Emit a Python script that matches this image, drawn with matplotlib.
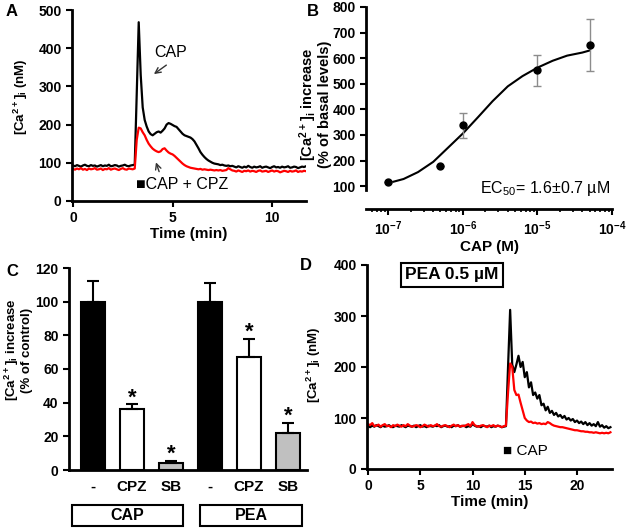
import numpy as np
import matplotlib
matplotlib.use("Agg")
import matplotlib.pyplot as plt
from matplotlib.patches import Rectangle
from matplotlib.ticker import LogLocator, NullFormatter
import matplotlib.transforms as mtransforms

plt.rcParams['font.family'] = ['Liberation Sans', 'DejaVu Sans']
plt.rcParams['font.weight'] = 'bold'
plt.rcParams['axes.labelweight'] = 'bold'
plt.rcParams['mathtext.default'] = 'regular'
plt.rcParams['axes.linewidth'] = 2
plt.rcParams['xtick.major.width'] = 1.5
plt.rcParams['ytick.major.width'] = 1.5
plt.rcParams['xtick.major.size'] = 4
plt.rcParams['ytick.major.size'] = 4

# ---- panel A: Ca traces, 0.1 min sampling
DT_A = 0.1
capA = [93, 91, 94, 92, 90, 93, 95, 92, 91, 94, 92, 93, 90, 92, 94, 91, 93, 92, 95, 91,
        92, 94, 93, 90, 92, 93, 95, 92, 91, 93, 94, 95,
        280, 468, 330, 245, 212, 195, 182, 175, 172, 176, 180, 182, 179, 184, 190, 200,
        204, 202, 199, 196, 194, 188, 182, 176, 172, 170, 168, 166, 162, 156, 147, 138,
        128, 121, 115, 110, 106, 103, 100, 98, 97, 96, 94, 95, 93, 92, 93, 91, 92,
        90, 88, 91, 89, 87, 90, 88, 92, 89, 87, 90, 88, 89, 91, 87, 89, 90, 88, 86, 89,
        91, 88, 89, 87, 90, 88, 89, 91, 87, 88, 90, 89, 86, 88, 90, 89, 91]
cpzA = [84, 82, 85, 83, 86, 82, 84, 81, 85, 83, 84, 86, 82, 83, 85, 81, 84, 83, 86, 82,
        84, 85, 83, 81, 84, 86, 83, 82, 85, 84, 83, 85,
        160, 192, 190, 180, 172, 160, 150, 143, 137, 133, 130, 128, 130, 136, 138, 132,
        127, 124, 122, 118, 113, 108, 103, 98, 94, 91, 89, 87, 86, 85, 84, 83,
        84, 82, 83, 82, 81, 82, 81, 80, 81, 80, 81, 79, 80, 81, 86, 83, 80,
        79, 77, 80, 78, 76, 79, 78, 80, 77, 79, 78, 76, 79, 80, 77, 78, 79, 76, 78, 80,
        77, 79, 78, 75, 77, 79, 78, 76, 79, 77, 78, 80, 76, 78, 77, 79, 78]

# ---- panel B: dose response
cap_conc = [1e-7, 5e-7, 1e-6, 1e-5, 5e-5]
cap_resp = [115, 180, 338, 553, 652]
cap_err = [0, 0, 48, 60, 102]
fit_conc = [1.0e-7, 1.6e-7, 2.5e-7, 4.0e-7, 6.3e-7, 1.0e-6, 1.6e-6, 2.5e-6,
            4.0e-6, 6.3e-6, 1.0e-5, 1.6e-5, 2.5e-5, 4.0e-5, 5.0e-5]
fit_resp = [112, 128, 155, 195, 250, 306, 370, 432, 490, 530, 563, 590, 610, 622, 630]

# ---- panel C: bars
bar_labels = ['-', 'CPZ', 'SB', '-', 'CPZ', 'SB']
bar_vals = [100, 36, 4, 100, 67, 22]
bar_errs = [12, 3, 1.5, 11, 11, 6]
bar_colors = ['black', 'white', '#c0c0c0', 'black', 'white', '#c0c0c0']
bar_sig = [False, True, True, False, True, True]
groups = ['CAP', 'PEA']

# ---- panel D: traces, 0.2 min sampling
DT_D = 0.2
capD = [84, 82, 85, 83, 86, 84, 82, 85, 83, 84, 86, 83, 82, 85, 84, 83, 86, 84, 82, 85,
        84, 83, 85, 82, 84, 86, 83, 84, 82, 85, 84, 83, 85, 84, 86, 82, 84, 85, 83, 84,
        82, 85, 84, 86, 83, 84, 85, 82, 84, 83, 88, 85, 83, 84, 82, 85, 84, 83, 85, 82,
        84, 83, 85, 84, 82, 83, 84,
        200, 312, 205, 190, 205, 222, 200, 210, 180, 190, 160, 170, 145, 150, 138, 145,
        125, 128, 115, 122, 110, 114, 106, 110, 103, 106, 100, 104, 97, 100, 95, 98,
        92, 95, 90, 93, 88, 92, 86, 90, 85, 88, 84, 92, 83, 86, 81, 84, 80, 82]
peaD = [88, 86, 90, 84, 85, 87, 83, 86, 88, 84, 85, 82, 86, 84, 87, 85, 83, 86, 84, 88,
        85, 83, 84, 86, 85, 82, 84, 87, 85, 83, 86, 84, 85, 88, 84, 83, 85, 86, 84, 82,
        85, 87, 84, 86, 83, 85, 84, 86, 88, 84, 92, 86, 84, 83, 85, 86, 84, 82, 85, 84,
        86, 83, 85, 84, 82, 84, 85,
        150, 207, 200, 155, 145, 146, 130, 115, 100, 95, 92, 93, 90, 91, 89, 90,
        88, 89, 88, 92, 90, 87, 85, 84, 83, 82, 82, 81, 80, 79, 78, 77,
        76, 76, 75, 74, 74, 73, 73, 72, 72, 71, 72, 71, 70, 71, 70, 71, 70, 72]

W, H = 629, 530
fig = plt.figure(figsize=(W / 100, H / 100), dpi=100)


def px_axes(l, t, r, b):
    return fig.add_axes([l / W, 1 - b / H, (r - l) / W, (b - t) / H])


def style(ax):
    ax.spines['top'].set_visible(False)
    ax.spines['right'].set_visible(False)
    ax.tick_params(labelsize=10, direction='out')


# ===== A
axA = px_axes(72, 10, 306, 201)
style(axA)
tA = np.arange(len(capA)) * DT_A
axA.plot(tA, capA, color='black', lw=1.6)
axA.plot(tA, cpzA, color='red', lw=1.6)
axA.set_xlim(-0.05, 11.7)
axA.set_ylim(0, 500)
axA.set_xticks([0, 5, 10])
axA.set_yticks([0, 100, 200, 300, 400, 500])
axA.set_xlabel('Time (min)', fontsize=11, labelpad=1)
axA.set_ylabel('[Ca$^{2+}$]$_i$ (nM)', fontsize=9.5)
axA.yaxis.set_label_coords(-0.18, 0.545)
axA.text(4.9, 390, 'CAP', fontsize=11.5, fontweight='normal', ha='center', va='center')
axA.annotate('', xy=(3.95, 328), xytext=(4.8, 360),
             arrowprops=dict(arrowstyle='->', color='#333333', lw=1))
axA.annotate('', xy=(4.12, 108), xytext=(4.37, 70),
             arrowprops=dict(arrowstyle='->', color='#333333', lw=1))
axA.text(3.15, 42, '\u25a0CAP + CPZ', fontsize=11.5, fontweight='normal', ha='left', va='center')

# ===== B
axB = px_axes(366, 7, 612, 190)
style(axB)
axB.set_xscale('log')
axB.plot(fit_conc, fit_resp, color='black', lw=1.5)
axB.errorbar(cap_conc, cap_resp, yerr=cap_err, fmt='o', color='black', ms=5,
             ecolor='#8c8c8c', elinewidth=1, capsize=3)
axB.set_xlim(10 ** -7.3, 1e-4)
axB.set_ylim(85, 800)
axB.set_yticks(range(100, 900, 100))
axB.set_xticks([1e-7, 1e-6, 1e-5, 1e-4])
axB.set_xticklabels(['$10^{-7}$', '$10^{-6}$', '$10^{-5}$', '$10^{-4}$'])
axB.xaxis.set_minor_locator(LogLocator(base=10, subs=np.arange(2, 10)))
axB.xaxis.set_minor_formatter(NullFormatter())
axB.tick_params(axis='x', which='minor', length=2.5, width=1.2)
axB.spines['bottom'].set_position(('outward', 14))
axB.set_xlabel('CAP (M)', fontsize=11, labelpad=1)
axB.set_ylabel('[Ca$^{2+}$]$_i$ increase\n(% of basal levels)', fontsize=10.5, linespacing=0.95)
axB.yaxis.set_label_coords(-0.138, 0.47)
axB.text(0.99, 0.01, 'EC$_{50}$= 1.6\u00b10.7 \u00b5M', transform=axB.transAxes,
         fontsize=11.5, fontweight='normal', ha='right', va='center')

# ===== C
axC = px_axes(69, 268, 307, 470)
style(axC)
xC = np.arange(len(bar_vals))
axC.bar(xC, bar_vals, width=0.6, color=bar_colors, edgecolor='black', lw=1.5,
        yerr=[np.zeros(len(bar_errs)), bar_errs], capsize=4,
        error_kw=dict(elinewidth=1.5, capthick=1.5, ecolor='black'))
for x, v, e, s in zip(xC, bar_vals, bar_errs, bar_sig):
    if s:
        axC.text(x, v + e - 2.5, '*', fontsize=16, ha='center', va='bottom')
axC.set_xlim(-0.62, 5.49)
axC.set_ylim(0, 120)
axC.set_yticks(range(0, 140, 20))
axC.set_xticks(xC)
axC.set_xticklabels(bar_labels, fontsize=11)
axC.tick_params(axis='x', length=0, pad=7)
axC.set_ylabel('[Ca$^{2+}$]$_i$ increase\n(% of control)', fontsize=9.5, linespacing=1.0)
axC.yaxis.set_label_coords(-0.151, 0.594)
trC = mtransforms.blended_transform_factory(axC.transData, axC.transAxes)
group_spans = [(-0.54, 2.31), (2.74, 5.36)]
for g, (x0, x1) in zip(groups, group_spans):
    axC.add_patch(Rectangle((x0, -0.277), x1 - x0, 0.104, transform=trC,
                            fill=False, lw=1.5, edgecolor='black', clip_on=False))
    axC.text((x0 + x1) / 2, -0.225, g, transform=trC, fontsize=11.5,
             ha='center', va='center')

# ===== D
axD = px_axes(367, 265, 612, 469)
style(axD)
tD = np.arange(len(capD)) * DT_D
axD.plot(tD, capD, color='black', lw=1.6)
axD.plot(tD, peaD, color='red', lw=1.6)
axD.set_xlim(-0.1, 23.35)
axD.set_ylim(0, 400)
axD.set_xticks([0, 5, 10, 15, 20])
axD.set_yticks([0, 100, 200, 300, 400])
axD.set_xlabel('Time (min)', fontsize=11, labelpad=1)
axD.set_ylabel('[Ca$^{2+}$]$_i$ (nM)', fontsize=9.5)
axD.yaxis.set_label_coords(-0.18, 0.51)
axD.text(0.347, 0.951, 'PEA 0.5 \u00b5M', transform=axD.transAxes, fontsize=12.5,
         ha='center', va='center',
         bbox=dict(boxstyle='square,pad=0.25', fc='white', ec='black', lw=1.5))
axD.text(12.9, 35, '\u25a0 CAP', fontsize=11, fontweight='normal', ha='left', va='center')

# panel letters
for lab, x, y in [('A', 12, 12), ('B', 313, 12), ('C', 12, 271), ('D', 306, 265)]:
    fig.text(x / W, 1 - y / H, lab, fontsize=12, ha='center', va='center')

fig.savefig('out.png', dpi=100)
